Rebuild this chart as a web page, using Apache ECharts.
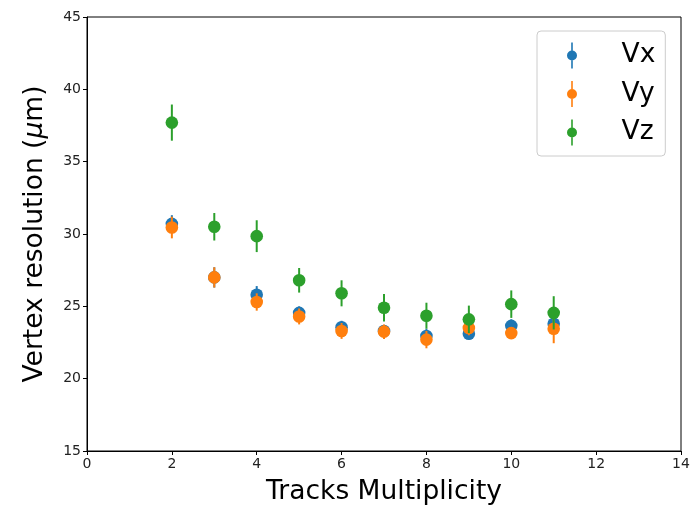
<!DOCTYPE html>
<html>
<head>
<meta charset="utf-8">
<script src="https://cdn.jsdelivr.net/npm/echarts@6/dist/echarts.min.js"></script>
<style>html,body{margin:0;padding:0;background:#fff;}#c{width:694px;height:507px;}</style>
</head>
<body>
<div id="c"></div>
<script>
const tracks = [2, 3, 4, 5, 6, 7, 8, 9, 10, 11];
const vx = [30.7, 27.0, 25.8, 24.55, 23.55, 23.3, 22.95, 23.1, 23.65, 23.8];
const vxErr = [0.6, 0.7, 0.6, 0.45, 0.45, 0.4, 0.5, 0.4, 0.45, 0.5];
const vy = [30.45, 27.0, 25.3, 24.3, 23.3, 23.25, 22.7, 23.5, 23.15, 23.45];
const vyErr = [0.75, 0.7, 0.6, 0.55, 0.55, 0.5, 0.6, 0.5, 0.4, 1.0];
const vz = [37.7, 30.5, 29.85, 26.8, 25.9, 24.9, 24.35, 24.1, 25.15, 24.55];
const vzErr = [1.25, 0.95, 1.1, 0.85, 0.9, 0.95, 0.9, 0.95, 0.95, 1.15];
const xTicks = [0, 2, 4, 6, 8, 10, 12, 14];
const yTicks = [15, 20, 25, 30, 35, 40, 45];

const colors = ['#1f77b4', '#ff7f0e', '#2ca02c'];
const names = ['Vx', 'Vy', 'Vz'];
const vals = [vx, vy, vz];
const errs = [vxErr, vyErr, vzErr];
const legendIcon = 'path://M5.7,0 L7.3,0 L7.3,13 L5.7,13 Z M5.7,13 L7.3,13 L7.3,26 L5.7,26 Z M1.5,13 A5,5 0 1,1 11.5,13 A5,5 0 1,1 1.5,13 Z';

function mkSeries(i) {
  const data = tracks.map((t, k) => [t, vals[i][k], errs[i][k]]);
  return {
    name: names[i],
    type: 'custom',
    z: 2 + i,
    itemStyle: { color: colors[i] },
    data: data,
    encode: { x: 0, y: 1 },
    renderItem: function (params, api) {
      const x = api.value(0), y = api.value(1), e = api.value(2);
      const p = api.coord([x, y]);
      const top = api.coord([x, y + e]);
      const bot = api.coord([x, y - e]);
      return {
        type: 'group',
        children: [
          { type: 'line', shape: { x1: top[0], y1: top[1], x2: bot[0], y2: bot[1] },
            style: { stroke: colors[i], lineWidth: 2 } },
          { type: 'circle', shape: { cx: p[0], cy: p[1], r: 6.3 },
            style: { fill: colors[i] } }
        ]
      };
    }
  };
}

const chart = echarts.init(document.getElementById('c'), null, { renderer: 'canvas' });
const font = 'DejaVu Sans';
chart.setOption({
  animation: false,
  backgroundColor: '#fff',
  grid: { left: 87, right: 13, top: 17, bottom: 56, containLabel: false, outerBoundsMode: 'none',
    show: true, borderColor: '#000', borderWidth: 1, backgroundColor: 'transparent' },
  legend: {
    orient: 'vertical',
    left: 537, top: 31,
    padding: [11, 10, 10, 30],
    itemWidth: 13, itemHeight: 26, itemGap: 11.5,
    icon: legendIcon,
    borderColor: '#cccccc', borderWidth: 1, borderRadius: 4,
    backgroundColor: 'rgba(255,255,255,0.8)',
    textStyle: { fontFamily: font, fontSize: 26.5, color: '#000', padding: [0, 0, 0, 38] },
    data: names
  },
  xAxis: {
    type: 'value', min: 0, max: 14, interval: 2,
    name: 'Tracks Multiplicity', nameLocation: 'middle', nameGap: 28,
    nameTextStyle: { fontFamily: font, fontSize: 26.5, color: '#000' },
    axisLine: { show: true, lineStyle: { color: '#000', width: 1 } },
    axisTick: { show: true, inside: false, length: 4, lineStyle: { color: '#000' } },
    axisLabel: { fontFamily: font, fontSize: 14, color: '#222', margin: 6,
      formatter: v => xTicks.includes(v) ? String(v) : '' },
    splitLine: { show: false }
  },
  yAxis: {
    type: 'value', min: 15, max: 45, interval: 5,
    name: 'Vertex resolution ({i|\u03bc}m)', nameLocation: 'middle', nameGap: 38,
    nameTextStyle: { fontFamily: font, fontSize: 26.5, color: '#000',
      rich: { i: { fontFamily: font, fontSize: 26.5, fontStyle: 'italic', color: '#000' } } },
    axisLine: { show: true, lineStyle: { color: '#000', width: 1 } },
    axisTick: { show: true, inside: false, length: 4, lineStyle: { color: '#000' } },
    axisLabel: { fontFamily: font, fontSize: 14, color: '#222', margin: 6,
      formatter: v => yTicks.includes(v) ? String(v) : '' },
    splitLine: { show: false }
  },
  series: [mkSeries(0), mkSeries(1), mkSeries(2)]
});
</script>
</body>
</html>
